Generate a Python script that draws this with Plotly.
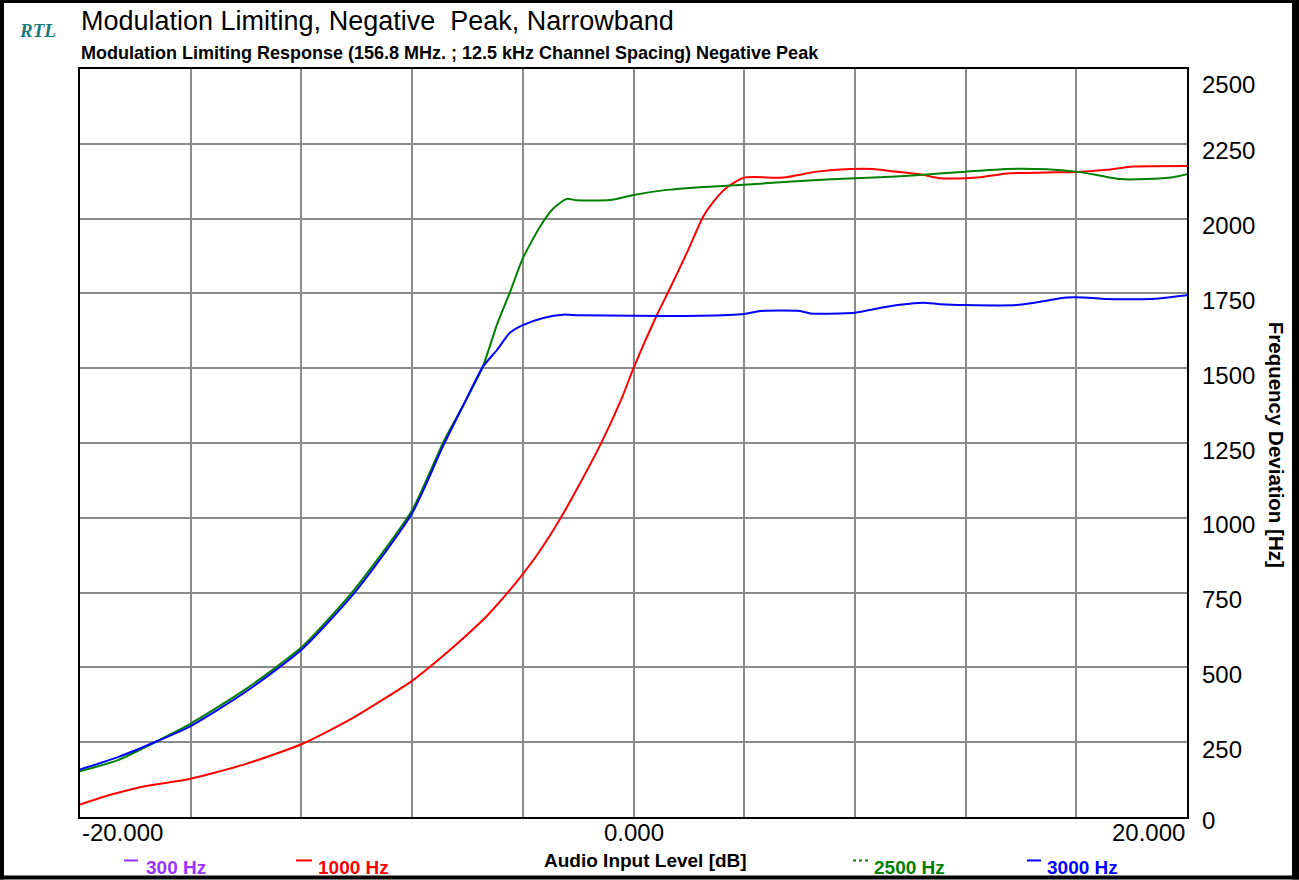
import plotly.graph_objects as go

# ---------------- data ----------------
series_names = ["300 Hz", "1000 Hz", "2500 Hz", "3000 Hz"]

x_1000 = [-20, -18.87, -17.66, -16.46, -16, -14.05, -12, -10.07, -8, -7.42, -6.51, -5.3, -4.64, -4.0,
          -3.38, -2.66, -1.95, -1.15, -0.43, 0, 0.84, 1.32, 1.92, 2.52, 2.89, 3.37, 4.0, 5.41,
          6.62, 7.82, 8.67, 9.27, 10.35, 11.07, 12.0, 12.52, 13.48, 14.93, 16.01, 17.1, 18.06, 20]
y_1000 = [42, 75, 103, 120, 128, 176, 243, 335, 455, 497, 568, 672, 740, 812,
          890, 995, 1112, 1253, 1398, 1500, 1677, 1767, 1884, 2007, 2057, 2104, 2137, 2137,
          2157, 2166, 2166, 2159, 2148, 2135, 2135, 2138, 2151, 2154, 2156, 2163, 2174, 2176]

x_2500 = [-20, -18.63, -17.2, -16, -14.05, -12, -10.07, -8, -6.87, -6.15, -5.45, -4.94, -4.46, -4.0,
          -3.38, -2.9, -2.41, -2.05, -0.85, 0, 1.2, 2.41, 4, 6.02, 8, 8.91, 10.35, 12, 13.48,
          14.93, 16, 16.74, 17.58, 18.54, 19.5, 20]
y_2500 = [153, 190, 254, 312, 425, 567, 762, 1025, 1253, 1376, 1504, 1644, 1755, 1867,
          1973, 2034, 2066, 2061, 2062, 2079, 2096, 2105, 2113, 2126, 2135, 2138, 2146, 2157, 2166,
          2165, 2157, 2146, 2132, 2132, 2138, 2148]

x_3000 = [-20, -18.63, -17.2, -16, -14.05, -12, -10.07, -8, -6.87, -6.15, -5.45, -4.94, -4.46, -4.0,
          -3.26, -2.54, -2, 0, 2.4, 4, 4.58, 6.02, 6.39, 7.46, 8, 8.67, 9.63, 10.47, 11.08, 12,
          13.84, 14.69, 15.65, 16.61, 17.1, 18.66, 20]
y_3000 = [159, 200, 254, 304, 416, 559, 751, 1015, 1242, 1376, 1504, 1560, 1619, 1644,
          1668, 1679, 1677, 1675, 1675, 1681, 1691, 1691, 1683, 1683, 1685, 1697, 1712, 1719, 1714, 1711,
          1711, 1722, 1736, 1735, 1731, 1731, 1744]

x_ticklabels = ["-20.000", "0.000", "20.000"]
x_tickpos = [-20, 0, 20]
y_tickvals = [0, 250, 500, 750, 1000, 1250, 1500, 1750, 2000, 2250, 2500]

colors = {"300 Hz": "#9933ff", "1000 Hz": "#ff0000", "2500 Hz": "#008000", "3000 Hz": "#0000ff"}

# ---------------- geometry helpers ----------------
W, H = 1299, 880
L, R, T, B = 80, 1187, 69, 817.5


def px(xp):
    return (xp - L) / (R - L)


def py(yp):
    return (B - yp) / (B - T)


FONT = "Arial, Liberation Sans, sans-serif"

fig = go.Figure()
for name, xs, ys in [("1000 Hz", x_1000, y_1000), ("2500 Hz", x_2500, y_2500), ("3000 Hz", x_3000, y_3000)]:
    fig.add_trace(go.Scatter(x=xs, y=ys, mode="lines", name=name,
                             line=dict(color=colors[name], width=2, shape="spline", smoothing=0.6),
                             showlegend=False))

fig.update_layout(
    width=W, height=H,
    margin=dict(l=L, r=W - R, t=T, b=H - B, pad=0),
    paper_bgcolor="white", plot_bgcolor="white",
    font=dict(family=FONT, color="black"),
    showlegend=False,
)
fig.update_xaxes(range=[-20, 20], dtick=4, tick0=-20, showgrid=True, gridcolor="#8a8a8a", gridwidth=2,
                 showline=True, linecolor="black", linewidth=2, mirror=True,
                 showticklabels=False, ticks="", zeroline=False)
fig.update_yaxes(range=[0, 2500], tickvals=y_tickvals, side="right", showgrid=True, gridcolor="#8a8a8a",
                 gridwidth=2, showline=True, linecolor="black", linewidth=2, mirror=True,
                 ticks="", showticklabels=False, zeroline=False)

ann = []
# y tick labels (sit slightly below their grid lines, as in the original)
for v in y_tickvals:
    shift = -15 if v == 2500 else (-3 if v == 0 else -7)
    ann.append(dict(x=px(1200), y=v, xref="paper", yref="y", text=str(v), showarrow=False,
                    xanchor="left", yanchor="middle", yshift=shift,
                    font=dict(size=24, family=FONT, color="black")))
# x tick labels
anchors = ["left", "center", "right"]
for pos, lab, anc in zip(x_tickpos, x_ticklabels, anchors):
    ann.append(dict(x=pos, y=py(833), xref="x", yref="paper", text=lab, showarrow=False,
                    xanchor=anc, yanchor="middle", font=dict(size=24, family=FONT, color="black")))
# titles
ann.append(dict(x=px(79), y=py(21), xref="paper", yref="paper", xanchor="left", yanchor="middle",
                text="Modulation Limiting, Negative  Peak, Narrowband", showarrow=False,
                font=dict(size=27, family=FONT, color="black")))
ann.append(dict(x=px(79), y=py(53), xref="paper", yref="paper", xanchor="left", yanchor="middle",
                text="<b>Modulation Limiting Response (156.8 MHz. ; 12.5 kHz Channel Spacing) Negative Peak</b>",
                showarrow=False, font=dict(size=18, family=FONT, color="black")))
ann.append(dict(x=px(17), y=py(30), xref="paper", yref="paper", xanchor="left", yanchor="middle",
                text="<b><i>RTL</i></b>", showarrow=False,
                font=dict(size=19, family="Liberation Serif, Times New Roman, serif", color="#1a7a7a")))
# axis titles
ann.append(dict(x=px(645), y=py(861), xref="paper", yref="paper", xanchor="center", yanchor="middle",
                text="<b>Audio Input Level [dB]</b>", showarrow=False,
                font=dict(size=19, family=FONT, color="black")))
ann.append(dict(x=px(1276), y=py(445), xref="paper", yref="paper", xanchor="center", yanchor="middle",
                text="<b>Frequency Deviation [Hz]</b>", showarrow=False, textangle=90,
                font=dict(size=20.5, family=FONT, color="black")))

shapes = []
# legend entries
legend_pos = {"300 Hz": (124, 138, 144), "1000 Hz": (296, 312, 316),
              "2500 Hz": (853, 869, 872), "3000 Hz": (1027, 1041, 1045)}
for name in series_names:
    x0, x1, xt = legend_pos[name]
    ann.append(dict(x=px(xt), y=py(868), xref="paper", yref="paper", xanchor="left", yanchor="middle",
                    text="<b>" + name + "</b>", showarrow=False,
                    font=dict(size=19, family=FONT, color=colors[name])))
    shapes.append(dict(type="line", xref="paper", yref="paper", x0=px(x0), x1=px(x1), y0=py(861), y1=py(861),
                       line=dict(color=colors[name], width=2, dash="dot" if name == "2500 Hz" else "solid")))

# outer black frame
for (a, b, c, d) in [(0, 0, 4, H), (0, 0, W, 3), (1292, 0, W, H), (0, 876, W, H)]:
    shapes.append(dict(type="rect", xref="paper", yref="paper", x0=px(a), x1=px(c), y0=py(d), y1=py(b),
                       fillcolor="black", line=dict(width=0), layer="above"))

fig.update_layout(annotations=ann, shapes=shapes)
fig.write_html("out.html")
